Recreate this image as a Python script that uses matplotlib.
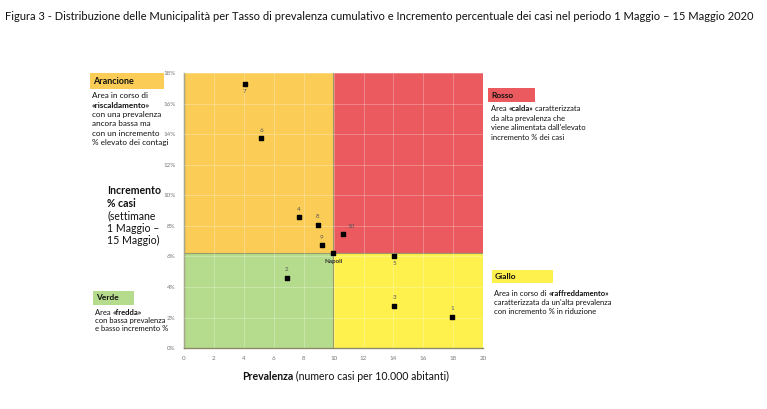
import matplotlib.pyplot as plt
from matplotlib.patches import Rectangle
from matplotlib.ticker import FuncFormatter

plt.rcParams['font.family'] = ['Lato', 'DejaVu Sans']

# Municipalita: prevalenza (casi per 10.000) e incremento % casi
labels = ['1', '2', '3', '4', '5', '6', '7', '8', '9', '10', 'Napoli']
prevalenza = [17.9, 6.85, 14.05, 7.7, 14.05, 5.15, 4.07, 8.93, 9.2, 10.65, 9.97]
incremento = [2.05, 4.62, 2.78, 8.56, 6.04, 13.75, 17.3, 8.08, 6.72, 7.5, 6.22]
# posizione dell'etichetta rispetto al punto
label_pos = ['above', 'above', 'above', 'above', 'below', 'above', 'below',
             'above', 'above', 'right', 'below']

soglia_x = 9.97   # prevalenza di Napoli
soglia_y = 6.22   # incremento di Napoli

title = ("Figura 3 - Distribuzione delle Municipalità per Tasso di prevalenza cumulativo "
         "e Incremento percentuale dei casi nel periodo 1 Maggio \u2013 15 Maggio 2020")

c_orange = '#fbcd56'
c_red = '#ea5a5e'
c_yellow = '#fff14d'
c_green = '#b5dc8c'

fig = plt.figure(figsize=(7.67, 4.09), dpi=100)
ax = fig.add_axes([0.240, 0.149, 0.390, 0.672])

ax.set_xlim(0, 20)
ax.set_ylim(0, 18)
ax.fill_between([0, soglia_x], soglia_y, 18, color=c_orange, lw=0, zorder=0)
ax.fill_between([soglia_x, 20], soglia_y, 18, color=c_red, lw=0, zorder=0)
ax.fill_between([0, soglia_x], 0, soglia_y, color=c_green, lw=0, zorder=0)
ax.fill_between([soglia_x, 20], 0, soglia_y, color=c_yellow, lw=0, zorder=0)
ax.axhline(soglia_y, color='#9a9a6a', lw=0.8, zorder=1)
ax.axvline(soglia_x, color='#9a9a6a', lw=0.8, zorder=1)

ax.set_xticks(range(0, 21, 2))
ax.set_yticks(range(0, 19, 2))
ax.yaxis.set_major_formatter(FuncFormatter(lambda v, p: f"{int(v)}%"))
ax.tick_params(length=0, labelsize=4.5, labelcolor='#777777', pad=6)
ax.grid(True, color='white', alpha=0.3, lw=0.6)
ax.set_axisbelow(False)
for s in ['top', 'right']:
    ax.spines[s].set_visible(False)
for s in ['left', 'bottom']:
    ax.spines[s].set_color('#8a8a6a')
    ax.spines[s].set_linewidth(1.0)

ax.scatter(prevalenza, incremento, marker='s', s=10, color='black', zorder=3, clip_on=False)
for lab, x, y, pos in zip(labels, prevalenza, incremento, label_pos):
    if pos == 'above':
        off, ha, va = (0, 4), 'center', 'bottom'
    elif pos == 'below':
        off, ha, va = (0, -4), 'center', 'top'
    else:
        off, ha, va = (3, 3), 'left', 'bottom'
    w = 'bold' if lab == 'Napoli' else 'normal'
    col = '#333333' if lab == 'Napoli' else '#555555'
    ax.annotate(lab, (x, y), xytext=off, textcoords='offset points', ha=ha, va=va,
                fontsize=4.5, color=col, fontweight=w, zorder=4)

W, H = 767, 409


def fx(px):
    return px / W


def fy(py):
    return 1 - py / H


def rich(x, y, parts, size, color='#111111'):
    # one line of text, parts chained so bold and normal pieces follow each other
    prev = None
    for text, bold in parts:
        w = 'bold' if bold else 'normal'
        if prev is None:
            prev = fig.text(fx(x), fy(y), text, fontsize=size, fontweight=w,
                            ha='left', va='bottom', color=color)
        else:
            prev = fig.add_artist(plt.Annotation(text, xy=(1, 0), xycoords=prev,
                                                 fontsize=size, fontweight=w, color=color,
                                                 ha='left', va='bottom'))


def box(x0, y0, x1, y1, color, label, size):
    fig.patches.append(Rectangle((fx(x0), fy(y1)), fx(x1) - fx(x0), fy(y0) - fy(y1),
                                 transform=fig.transFigure, color=color, lw=0))
    fig.text(fx(x0 + 3), fy((y0 + y1) / 2), label, fontsize=size, fontweight='bold',
             ha='left', va='center', color='#111111')


fig.text(fx(5), fy(17), title, fontsize=8.0, ha='left', va='center', color='#111111')

# Arancione
box(90, 73, 164, 89, c_orange, 'Arancione', 6.5)
aran = [[('Area in corso di', False)], [('«riscaldamento»', True)],
        [('con una prevalenza', False)], [('ancora bassa ma', False)],
        [('con un incremento', False)], [('% elevato dei contagi', False)]]
for i, parts in enumerate(aran):
    rich(92, 99 + i * 9.5, parts, 5.9)

# Rosso
box(488, 88, 535, 102, c_red, 'Rosso', 6.0)
rosso = [[('Area ', False), ('«calda»', True), (' caratterizzata', False)],
         [('da alta prevalenza che', False)],
         [("viene alimentata dall'elevato", False)],
         [('incremento % dei casi', False)]]
for i, parts in enumerate(rosso):
    rich(491, 112 + i * 9.7, parts, 5.5)

# Giallo
box(492, 270, 553, 283, c_yellow, 'Giallo', 6.0)
giallo = [[('Area in corso di ', False), ('«raffreddamento»', True)],
          [("caratterizzata da un'alta prevalenza", False)],
          [('con incremento % in riduzione', False)]]
for i, parts in enumerate(giallo):
    rich(494, 297 + i * 9.0, parts, 5.5)

# Verde
box(93, 291, 134, 305, c_green, 'Verde', 6.0)
verde = [[('Area ', False), ('«fredda»', True)],
         [('con bassa prevalenza', False)],
         [('e basso incremento %', False)]]
for i, parts in enumerate(verde):
    rich(95, 316 + i * 8.0, parts, 5.5)

# Etichetta asse y
ylab = [[('Incremento', True)], [('% casi', True)], [('(settimane', False)],
        [('1 Maggio \u2013', False)], [('15 Maggio)', False)]]
for i, parts in enumerate(ylab):
    rich(107, 196 + i * 12.5, parts, 7.6)

# Etichetta asse x
rich(242, 382, [('Prevalenza', True), (' (numero casi per 10.000 abitanti)', False)], 7.6)

fig.savefig('out.png', dpi=100)
